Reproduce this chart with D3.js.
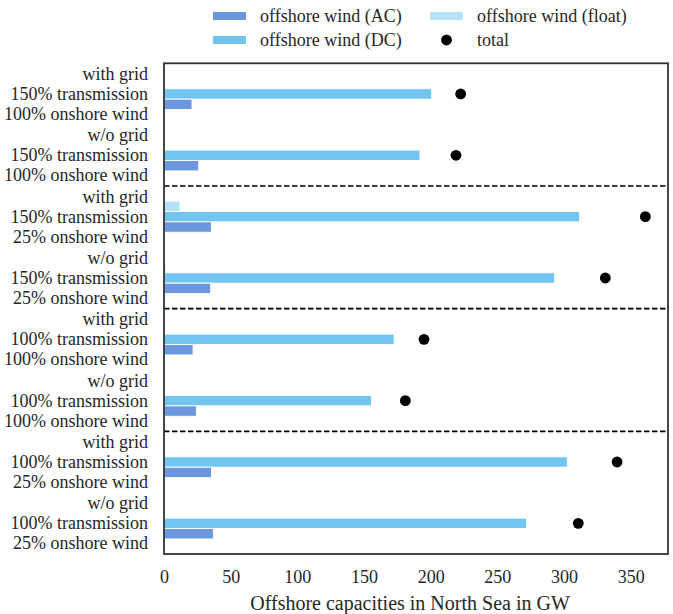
<!DOCTYPE html>
<html><head><meta charset="utf-8">
<script src="https://cdn.jsdelivr.net/npm/d3@7"></script>
<style>body{margin:0;background:#fff}svg{display:block}</style>
</head><body>
<script>
const gridLabels = ["with grid","w/o grid","with grid","w/o grid","with grid","w/o grid","with grid","w/o grid"];
const transLabels = ["150% transmission","150% transmission","150% transmission","150% transmission","100% transmission","100% transmission","100% transmission","100% transmission"];
const onshoreLabels = ["100% onshore wind","100% onshore wind","25% onshore wind","25% onshore wind","100% onshore wind","100% onshore wind","25% onshore wind","25% onshore wind"];
const acValues = [21, 26, 35.5, 35, 21.8, 24.3, 35.6, 37];
const dcValues = [200.8, 192, 311.7, 293, 172.6, 155.6, 302.5, 272];
const floatValues = [0, 0, 12, 1.5, 0, 0, 0, 0];
const totalValues = [222.5, 219, 361, 331, 195, 181, 339.8, 310.7];
const xTicks = [0, 50, 100, 150, 200, 250, 300, 350];
const separators = [2, 4, 6];
const seriesNames = ["offshore wind (AC)", "offshore wind (DC)", "offshore wind (float)", "total"];

(function () {
const FONT = '"Liberation Serif", "Times New Roman", serif';
const W = 673, H = 614;
const colors = {ac: "#6a97df", dc: "#73c5f1", fl: "#b5e2f9"};
const svg = d3.select("body").append("svg").attr("width", W).attr("height", H);
const pl = 164, pr = 668, pt = 63.3, pb = 554;
const x = d3.scaleLinear().domain([0, 378]).range([pl, pr]);
const idx = d3.range(gridLabels.length);
const y = d3.scaleBand().domain(idx).range([pt, pb]).paddingInner(0).paddingOuter(0);
const off = 10.4, bh = 10.4;
const cy = i => y(i) + y.bandwidth() / 2;

function txt(parent, tx, ty, s, size, anchor) {
  return parent.append("text").attr("x", tx).attr("y", ty)
    .attr("dy", "0.33em").attr("text-anchor", anchor || "start")
    .style("font-family", FONT).style("font-size", size + "px").attr("fill", "#262626").text(s);
}

function bars(vals, color, dy) {
  svg.append("g").selectAll("rect").data(idx.filter(i => vals[i] > 0)).join("rect")
    .attr("x", x(0)).attr("y", i => cy(i) + dy - bh / 2)
    .attr("width", i => x(vals[i]) - x(0)).attr("height", bh)
    .attr("fill", color).attr("stroke", "#fff").attr("stroke-width", 0.9);
}
bars(floatValues, colors.fl, -off);
bars(dcValues, colors.dc, 0);
bars(acValues, colors.ac, off);

svg.append("g").selectAll("circle").data(idx).join("circle")
  .attr("cx", i => x(totalValues[i])).attr("cy", cy).attr("r", 5.4).attr("fill", "#000");

svg.append("g").selectAll("line").data(separators).join("line")
  .attr("x1", pl).attr("x2", pr).attr("y1", s => y(s)).attr("y2", s => y(s))
  .attr("stroke", "#000").attr("stroke-width", 1.6).attr("stroke-dasharray", "5.5,2.5");

svg.append("rect").attr("x", pl).attr("y", pt).attr("width", pr - pl).attr("height", pb - pt)
  .attr("fill", "none").attr("stroke", "#333").attr("stroke-width", 1.8);

const yl = svg.append("g");
idx.forEach(i => {
  [gridLabels[i], transLabels[i], onshoreLabels[i]].forEach((t, k) => {
    txt(yl, 148, cy(i) + (k - 1) * 20, t, 18, "end");
  });
});

const xa = d3.axisBottom(x).tickValues(xTicks).tickSize(0).tickPadding(0);
const gx = svg.append("g").attr("transform", `translate(0,${pb + 17})`).call(xa);
gx.select(".domain").remove();
gx.selectAll("text").remove();
gx.selectAll(".tick").each(function (d) { txt(d3.select(this), 0, 6, String(d), 18, "middle"); });
txt(svg, (pl + pr) / 2 - 6, 603, "Offshore capacities in North Sea in GW", 20, "middle");

const lg = svg.append("g");
const items = [
  {name: seriesNames[0], c: colors.ac, x: 213, y: 16, t: "rect"},
  {name: seriesNames[2], c: colors.fl, x: 430, y: 16, t: "rect"},
  {name: seriesNames[1], c: colors.dc, x: 213, y: 40, t: "rect"},
  {name: seriesNames[3], c: "#000", x: 430, y: 40, t: "dot"}
];
items.forEach(d => {
  if (d.t === "rect") lg.append("rect").attr("x", d.x).attr("y", d.y - 4).attr("width", 33).attr("height", 8).attr("fill", d.c);
  else lg.append("circle").attr("cx", d.x + 16.5).attr("cy", d.y).attr("r", 5.4).attr("fill", d.c);
  txt(lg, d.x + 47, d.y, d.name, 18, "start");
});
})();
</script>
</body></html>
